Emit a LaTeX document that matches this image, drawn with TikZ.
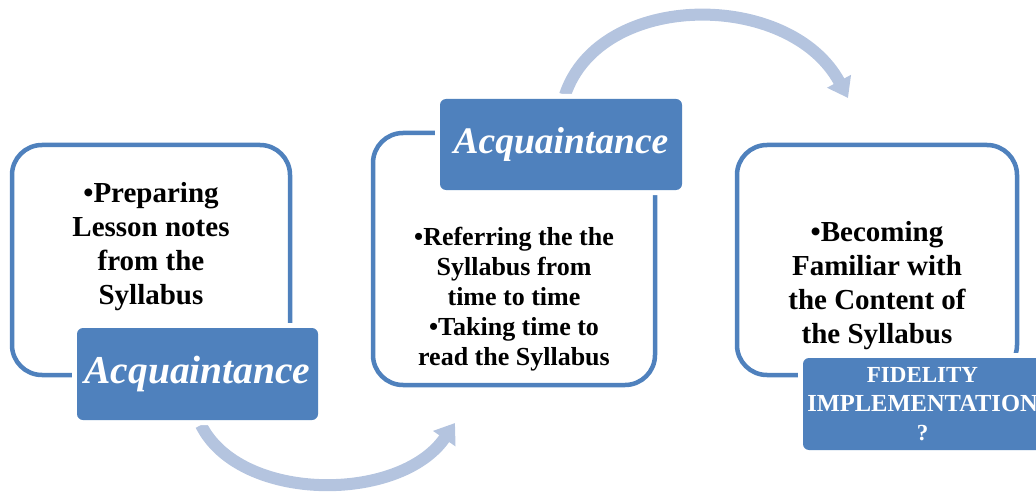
\documentclass[tikz,border=0pt]{standalone}
\usepackage{fontspec}
\setmainfont{Liberation Serif}
\usetikzlibrary{arrows.meta}
\definecolor{boxblue}{HTML}{4F81BD}
\definecolor{arrowblue}{HTML}{B4C4DF}
\tikzset{
  outerbox/.style={draw=boxblue, line width=4.5pt, rounded corners=30pt, fill=white, inner sep=0pt},
  labelbox/.style={fill=boxblue, rounded corners=6pt, inner sep=0pt, text=white,
    preaction={draw=white, line width=10pt}},
  bodytext/.style={align=center, inner sep=0pt, font=\bfseries},
  flowarrow/.style={draw=arrowblue, line width=12pt, -{Triangle[width=26pt,length=19pt]}}
}
\begin{document}
\begin{tikzpicture}[x=1pt,y=-1pt]
\clip (0,0) rectangle (1036,492);
% curved arrows (behind everything)
\coordinate (a1s) at (201,425);
\coordinate (a1e) at (455,423);
\coordinate (a2s) at (565,95);
\coordinate (a2e) at (848,98);
\draw[flowarrow] (a1s) .. controls (240,503) and (400,503) .. (a1e);
\draw[flowarrow] (a2s) .. controls (600,-10) and (790,-10) .. (a2e);
% outer boxes
\node[outerbox, minimum width=278pt, minimum height=230pt] (b1) at (151,260) {};
\node[outerbox, minimum width=282pt, minimum height=252pt] (b2) at (514,259) {};
\node[outerbox, minimum width=280pt, minimum height=230pt] (b3) at (877,260) {};
% body texts
\node[bodytext, font=\fontsize{29}{34}\selectfont\bfseries] (t1) at (151,247)
  {•Preparing\\Lesson notes\\from the\\Syllabus};
\node[bodytext, font=\fontsize{26}{30}\selectfont\bfseries] (t2) at (514,299)
  {•Referring the the\\Syllabus from\\time to time\\•Taking time to\\read the Syllabus};
\node[bodytext, font=\fontsize{29}{34}\selectfont\bfseries] (t3) at (877,286)
  {•Becoming\\Familiar with\\the Content of\\the Syllabus};
% label boxes
\node[labelbox, minimum width=241pt, minimum height=92pt,
  font=\fontsize{39.5}{45}\selectfont\bfseries\itshape] (l1) at (197.5,374) {\raisebox{-2pt}{Acquaintance}};
\node[labelbox, minimum width=242pt, minimum height=91pt,
  font=\fontsize{37.5}{43}\selectfont\bfseries\itshape] (l2) at (561,144.5) {Acquaintance};
\node[labelbox, minimum width=239pt, minimum height=92pt, align=center,
  font=\fontsize{23}{29}\selectfont\bfseries] (l3) at (922.5,404)
  {FIDELITY\\{\fontsize{24.5}{29}\selectfont IMPLEMENTATION}\\?};
\end{tikzpicture}
\end{document}
